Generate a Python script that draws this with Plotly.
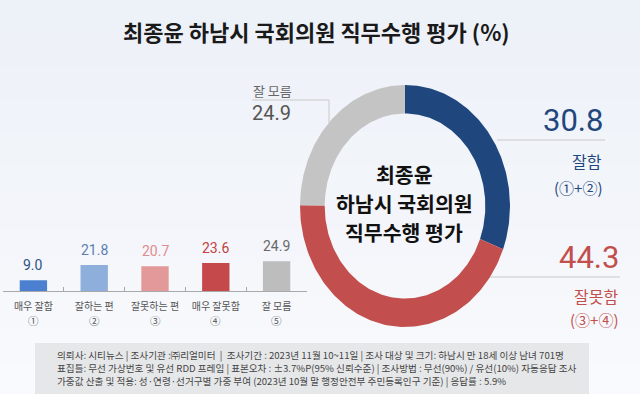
import numpy as np
import plotly.graph_objects as go

W, H = 640, 394

# ---------------- data ----------------
bar_categories = ["매우 잘함", "잘하는 편", "잘못하는 편", "매우 잘못함", "잘 모름"]
bar_numbers = ["①", "②", "③", "④", "⑤"]
bar_values = [9.0, 21.8, 20.7, 23.6, 24.9]
bar_colors = ["#4a80cf", "#8eaedb", "#e3999a", "#c5484a", "#bdbdbd"]
bar_text_colors = ["#2f5384", "#5a7fb2", "#e08c8d", "#c23f42", "#6a6a6a"]

donut_labels = ["잘함", "잘못함", "잘 모름"]
donut_values = [30.8, 44.3, 24.9]
donut_colors = ["#1f477d", "#c24f4d", "#c4c4c4"]

title_text = "최종윤 하남시 국회의원 직무수행 평가 (%)"
center_lines = ["최종윤", "하남시 국회의원", "직무수행 평가"]
footer_lines = [
    "의뢰사: 시티뉴스 | 조사기관 :㈜리얼미터  |  조사기간 : 2023년 11월 10~11일 | 조사 대상 및 크기: 하남시 만 18세 이상 남녀 701명",
    "표집틀: 무선 가상번호 및 유선 RDD 프레임 | 표본오차 : ±3.7%P(95% 신뢰수준) | 조사방법 : 무선(90%) / 유선(10%) 자동응답 조사",
    "가중값 산출 및 적용: 성·연령·선거구별 가중 부여 (2023년 10월 말 행정안전부 주민등록인구 기준) | 응답률 : 5.9%",
]

KR = "Noto Sans CJK KR"


def px(x):
    return x / W


def py(y):
    return 1 - y / H


fig = go.Figure()

# ---------------- bar chart ----------------
fig.add_trace(go.Bar(
    x=bar_categories, y=bar_values, marker=dict(color=bar_colors, line=dict(width=0)),
    width=0.45, xaxis="x", yaxis="y", hoverinfo="skip", showlegend=False,
))

for cat, v, c in zip(bar_categories, bar_values, bar_text_colors):
    fig.add_annotation(x=cat, y=v, xref="x", yref="y", text=f"{v:.1f}", showarrow=False,
                       yshift=15, font=dict(family="Roboto", size=14, color=c))

for cat, num in zip(bar_categories, bar_numbers):
    fig.add_annotation(x=cat, y=py(320), xref="x", yref="paper", text=num, showarrow=False,
                       yanchor="middle", font=dict(family=KR, size=10.5, color="#555555"))

# ---------------- donut (elliptical) ----------------
outer, inner = 1.0, 0.765
cum = np.concatenate([[0], np.cumsum(donut_values)]) / sum(donut_values)
for i, (lab, col) in enumerate(zip(donut_labels, donut_colors)):
    t = np.linspace(cum[i], cum[i + 1], 120) * 2 * np.pi
    xs = np.concatenate([outer * np.sin(t), inner * np.sin(t[::-1])])
    ys = np.concatenate([outer * np.cos(t), inner * np.cos(t[::-1])])
    fig.add_trace(go.Scatter(x=np.append(xs, xs[0]), y=np.append(ys, ys[0]), fill="toself",
                             fillcolor=col, mode="lines", line=dict(width=0, color=col),
                             xaxis="x2", yaxis="y2", hoverinfo="skip", showlegend=False))

# ---------------- layout ----------------
bar_y0 = 291
bar_range = 30
bar_px_per_unit = 1.19

fig.update_layout(
    width=W, height=H, margin=dict(l=0, r=0, t=0, b=0),
    paper_bgcolor="#f1f4f9", plot_bgcolor="rgba(0,0,0,0)",
    xaxis=dict(domain=[px(3), px(307)], type="category", showgrid=False, zeroline=False,
               showline=True, linecolor="#a8a8a8", linewidth=1, tickangle=0,
               ticks="inside", ticklen=4, tickcolor="#a8a8a8", tickson="boundaries",
               ticklabelstandoff=6,
               tickfont=dict(family=KR, size=10, color="#555555"), fixedrange=True),
    yaxis=dict(domain=[py(bar_y0), py(bar_y0 - bar_range * bar_px_per_unit)], range=[0, bar_range],
               visible=False, fixedrange=True),
    xaxis2=dict(domain=[px(300), px(510)], range=[-1, 1], visible=False, anchor="y2"),
    yaxis2=dict(domain=[py(327), py(85)], range=[-1, 1], visible=False, anchor="x2"),
)

shapes = []
# background gradient (top bluish to bottom lighter)
n = 12
for k in range(n):
    y0 = k * H / n
    y1 = (k + 1) * H / n
    f = k / (n - 1)
    r = int(237 + (248 - 237) * f)
    g = int(241 + (250 - 241) * f)
    b = int(248 + (253 - 248) * f)
    shapes.append(dict(type="rect", xref="paper", yref="paper", x0=0, x1=1, y0=py(y1), y1=py(y0),
                       fillcolor=f"rgb({r},{g},{b})", line=dict(width=0), layer="below"))
# footer box
shapes.append(dict(type="rect", xref="paper", yref="paper", x0=px(35), x1=px(589), y0=py(394), y1=py(343),
                   fillcolor="#e6e7e9", line=dict(width=0), layer="below"))
# leader lines
lc = "#c9c9c9"
shapes.append(dict(type="path", xref="paper", yref="paper",
                   path=f"M {px(252)} {py(100)} L {px(329)} {py(100)} L {px(329)} {py(125)}",
                   line=dict(color=lc, width=1)))
shapes.append(dict(type="line", xref="paper", yref="paper", x0=px(497), x1=px(605), y0=py(140), y1=py(140),
                   line=dict(color=lc, width=1)))
shapes.append(dict(type="line", xref="paper", yref="paper", x0=px(490), x1=px(620), y0=py(277), y1=py(277),
                   line=dict(color=lc, width=1)))
fig.update_layout(shapes=shapes)


def ann(x, y, text, size, color, xanchor="center", family=KR, bold=False):
    if bold:
        text = f"<b>{text}</b>"
    fig.add_annotation(x=px(x), y=py(y), xref="paper", yref="paper", text=text, showarrow=False,
                       xanchor=xanchor, yanchor="middle", font=dict(family=family, size=size, color=color))


# title
ann(316, 31, title_text, 22, "#1a1a1a", bold=True)
# donut centre text
for yy, line in zip([174, 203, 232], center_lines):
    ann(404, yy, line, 20.5, "#111111", bold=True)

# donut labels
ann(251, 90, donut_labels[2], 13, "#666666", xanchor="left")
ann(250, 113, f"{donut_values[2]:.1f}", 20, "#555555", xanchor="left", family="Roboto")

ann(605, 120, f"{donut_values[0]:.1f}", 31, donut_colors[0], xanchor="right", family="Roboto")
ann(604, 161, donut_labels[0], 16, donut_colors[0], xanchor="right")
ann(604, 187, "(①+②)", 15, donut_colors[0], xanchor="right")

ann(621, 257, f"{donut_values[1]:.1f}", 31, donut_colors[1], xanchor="right", family="Roboto")
ann(620, 296, donut_labels[1], 16, donut_colors[1], xanchor="right")
ann(620, 319, "(③+④)", 15, donut_colors[1], xanchor="right")

# footer
for yy, line in zip([355, 368, 381], footer_lines):
    ann(55, yy, line, 9.6, "#444444", xanchor="left")

fig.write_html("out.html", config={"displayModeBar": False},
               post_script="document.body.style.margin='0';")
